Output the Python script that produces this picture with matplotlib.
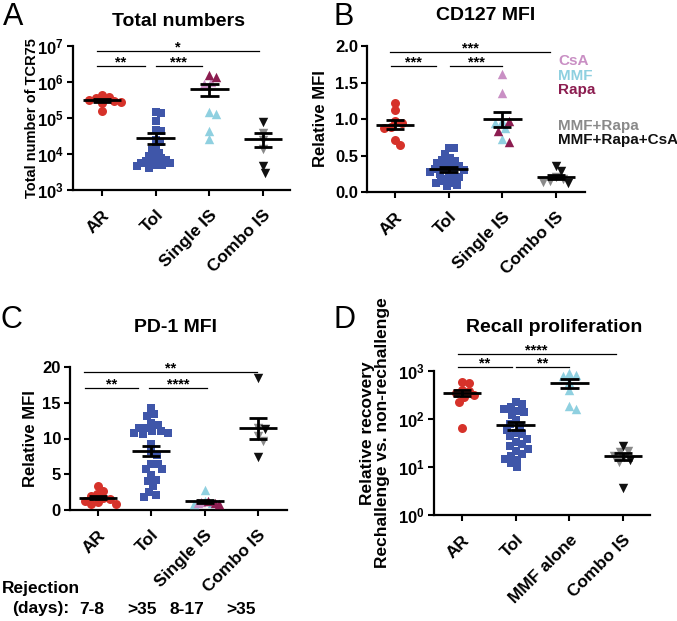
import numpy as np
import matplotlib
matplotlib.use('Agg')
import matplotlib.pyplot as plt
from matplotlib.ticker import NullLocator

plt.rcParams['font.family'] = ['Liberation Sans', 'DejaVu Sans']
plt.rcParams['font.weight'] = 'bold'
plt.rcParams['mathtext.fontset'] = 'custom'
plt.rcParams['mathtext.rm'] = 'Liberation Sans:bold'
plt.rcParams['mathtext.bf'] = 'Liberation Sans:bold'
plt.rcParams['mathtext.it'] = 'Liberation Sans:bold:italic'

# ---------------- data ----------------
cats_ABC = ['AR', 'Tol', 'Single IS', 'Combo IS']
cats_D = ['AR', 'Tol', 'MMF alone', 'Combo IS']

# Panel A: total number of TCR75
A_AR = [4.3e5, 3.8e5, 3.5e5, 3.1e5, 2.9e5, 2.8e5, 2.6e5, 1.6e5]
A_Tol = [1.5e5, 1.4e5, 8.5e4, 4.5e4, 4.3e4, 2.5e4, 2.2e4, 1.6e4, 1.3e4, 1.1e4, 9e3,
         8e3, 7.5e3, 7e3, 6.5e3, 6e3, 5.8e3, 5.5e3, 5e3, 4.8e3, 4.5e3, 4.2e3]
A_CsA = [1.0e6, 9.0e5]
A_MMF = [1.5e5, 1.3e5, 4.4e4, 2.6e4]
A_Rapa = [1.55e6, 1.35e6]
A_MR = [3.8e4, 2.4e4, 1.35e4]
A_MRC = [7.5e4, 4.6e3, 3.0e3]

# Panel B: CD127 MFI
B_AR = [1.22, 1.12, 0.97, 0.95, 0.89, 0.88, 0.71, 0.65]
B_Tol = [0.60, 0.60, 0.52, 0.47, 0.44, 0.42, 0.40, 0.37, 0.35, 0.33, 0.32, 0.31,
         0.30, 0.28, 0.27, 0.25, 0.22, 0.20, 0.18, 0.15, 0.13, 0.12, 0.10, 0.08]
B_CsA = [1.62, 1.35]
B_MMF = [0.97, 0.95, 0.88, 0.72]
B_Rapa = [0.97, 0.84, 0.68]
B_MR = [0.20, 0.18, 0.15, 0.14]
B_MRC = [0.35, 0.29, 0.12]

# Panel C: PD-1 MFI
C_AR = [3.3, 2.7, 2.2, 1.9, 1.7, 1.5, 1.3, 1.1, 0.9, 0.8]
C_Tol = [14.3, 13.4, 13.2, 12.1, 11.9, 11.5, 11.0, 10.7, 10.6, 10.7, 11.0, 11.4, 9.3,
         8.2, 7.7, 6.5, 6.5, 5.8, 5.7, 4.9, 4.2, 4.0, 3.3, 2.5, 2.1, 1.8]
C_CsA = [1.1, 1.0]
C_MMF = [2.8, 1.2, 1.0, 0.9]
C_Rapa = [1.2, 1.0, 0.9]
C_MR = [11.4, 10.35, 9.65]
C_MRC = [18.4, 11.3, 7.4]

# Panel D: recall proliferation
D_AR = [600, 550, 400, 380, 340, 310, 290, 230, 66]
D_Tol = [230, 210, 180, 165, 150, 140, 120, 94, 80, 70, 60, 52, 48, 44, 38, 33, 30,
         27, 24, 22, 19, 17, 15, 14, 12, 10]
D_MMF = [900, 830, 790, 600, 400, 185, 160]
D_MR = [22, 21, 17, 16, 12.5]
D_MRC = [28, 14, 3.7]

# significance: (x_start, x_end, y, label)
sig_A = [(-0.1, 2.92, 7.1e6, '*'), (-0.1, 0.8, 2.7e6, '**'), (1.0, 1.86, 2.7e6, '***')]
sig_B = [(-0.09, 2.89, 1.92, '***'), (-0.08, 0.76, 1.72, '***'), (1.02, 2.0, 1.72, '***')]
sig_C = [(-0.25, 2.97, 19.25, '**'), (-0.24, 0.75, 17.0, '**'), (0.96, 2.05, 17.0, '****')]
sig_D = [(-0.08, 2.86, 2290, '****'), (-0.08, 0.93, 1230, '**'), (1.0, 2.0, 1230, '**')]

rejection_days = ['7-8', '>35', '8-17', '>35']

# ---------------- style ----------------
RED = '#d6322a'
BLUE = '#3f56a9'
PINK = '#c98fc4'
LBLUE = '#8fd0e0'
DMAG = '#8c1d50'
GREY = '#8a8a8a'
BLACK = '#111111'

W, H = 677, 621
fig = plt.figure(figsize=(W / 100, H / 100), dpi=100)


def add_axes(l, t, r, b):
    return fig.add_axes([l / W, 1 - b / H, (r - l) / W, (b - t) / H])


def swarm(ax, xc, ys, d, maxw):
    ys = np.asarray(ys, float)
    pts = ax.transData.transform(np.column_stack([np.full(len(ys), xc), ys]))
    px0 = pts[0, 0]
    py = pts[:, 1]
    order = np.argsort(-py, kind='stable')
    placed = []
    xs = np.zeros(len(ys))
    for i in order:
        y = py[i]
        cands = [0.0]
        for (xp, yp) in placed:
            dy = abs(y - yp)
            if dy < d:
                dx = np.sqrt(d * d - dy * dy)
                cands += [xp + dx, xp - dx]
        cands = sorted(cands, key=lambda c: (abs(c), -c))
        chosen = cands[-1]
        for c in cands:
            if all((c - xp) ** 2 + (y - yp) ** 2 >= d * d - 1e-6 for xp, yp in placed):
                chosen = c
                break
        placed.append((chosen, y))
        xs[i] = chosen
    mx = np.abs(xs).max()
    if mx > maxw:
        xs = xs * maxw / mx
    inv = ax.transData.inverted()
    return inv.transform(np.column_stack([px0 + xs, py]))[:, 0]


MS = {'o': 42, 's': 36, '^': 46, 'v': 46}


def draw_group(ax, xc, subsets, d=7.0, maxw=19.0):
    allv = np.concatenate([np.asarray(v, float) for v, _, _ in subsets])
    xs = swarm(ax, xc, allv, d, maxw)
    k = 0
    for v, col, mk in subsets:
        n = len(v)
        ax.scatter(xs[k:k + n], v, s=MS[mk], marker=mk, color=col, linewidths=0,
                   zorder=3, clip_on=False)
        k += n
    m = allv.mean()
    s = allv.std(ddof=1) / np.sqrt(len(allv))
    kw = dict(color='black', lw=2.0, zorder=4, solid_capstyle='butt', clip_on=False)
    ax.plot([xc - 0.36, xc + 0.36], [m, m], **kw)
    ax.plot([xc, xc], [m - s, m + s], **kw)
    ax.plot([xc - 0.17, xc + 0.17], [m + s, m + s], **kw)
    ax.plot([xc - 0.17, xc + 0.17], [m - s, m - s], **kw)


def style(ax, cats, xlim):
    for sp in ['top', 'right']:
        ax.spines[sp].set_visible(False)
    for sp in ['left', 'bottom']:
        ax.spines[sp].set_linewidth(1.6)
    ax.tick_params(direction='out', length=4.5, width=1.5, labelsize=12, pad=2)
    ax.tick_params(axis='x', pad=8)
    ax.set_xlim(*xlim)
    ax.set_xticks(range(len(cats)))
    ax.set_xticklabels(cats, rotation=45, ha='right', va='top', rotation_mode='anchor',
                       fontsize=12.5, fontweight='bold')


def sig(ax, items):
    for x0, x1, y, lab in items:
        ax.plot([x0, x1], [y, y], color='black', lw=0.9, clip_on=False)
        ax.annotate(lab, xy=((x0 + x1) / 2, y), xytext=(0, -2.5), textcoords='offset points',
                    ha='center', va='bottom', fontsize=10.5, fontweight='bold',
                    annotation_clip=False)


# ---------------- Panel A ----------------
axA = add_axes(73, 46, 290, 190)
axA.set_yscale('log')
axA.set_ylim(1e3, 1e7)
style(axA, cats_ABC, (-0.54, 3.5))
axA.set_yticks([1e3, 1e4, 1e5, 1e6, 1e7])
axA.set_yticklabels([r'$\mathbf{10^{%d}}$' % e for e in range(3, 8)])
axA.yaxis.set_minor_locator(NullLocator())
draw_group(axA, 0, [(A_AR, RED, 'o')])
draw_group(axA, 1, [(A_Tol, BLUE, 's')])
draw_group(axA, 2, [(A_CsA, PINK, '^'), (A_MMF, LBLUE, '^'), (A_Rapa, DMAG, '^')])
draw_group(axA, 3, [(A_MR, GREY, 'v'), (A_MRC, BLACK, 'v')])
sig(axA, sig_A)
axA.set_ylabel('Total number of TCR75', fontsize=10.5, fontweight='bold')
axA.yaxis.set_label_coords(-0.157, 0.5)

# ---------------- Panel B ----------------
axB = add_axes(367, 46, 585, 192)
axB.set_ylim(0, 2.0)
style(axB, cats_ABC, (-0.52, 3.54))
axB.set_yticks([0, 0.5, 1.0, 1.5, 2.0])
axB.set_yticklabels(['0.0', '0.5', '1.0', '1.5', '2.0'])
draw_group(axB, 0, [(B_AR, RED, 'o')])
draw_group(axB, 1, [(B_Tol, BLUE, 's')])
draw_group(axB, 2, [(B_CsA, PINK, '^'), (B_MMF, LBLUE, '^'), (B_Rapa, DMAG, '^')])
draw_group(axB, 3, [(B_MR, GREY, 'v'), (B_MRC, BLACK, 'v')])
sig(axB, sig_B)
axB.set_ylabel('Relative MFI', fontsize=12, fontweight='bold')
axB.yaxis.set_label_coords(-0.18, 0.5)

# ---------------- Panel C ----------------
axC = add_axes(70, 367, 287, 510)
axC.set_ylim(0, 20)
style(axC, cats_ABC, (-0.52, 3.54))
axC.set_yticks([0, 5, 10, 15, 20])
draw_group(axC, 0, [(C_AR, RED, 'o')])
draw_group(axC, 1, [(C_Tol, BLUE, 's')])
draw_group(axC, 2, [(C_MMF, LBLUE, '^'), (C_CsA, PINK, '^'), (C_Rapa, DMAG, '^')], maxw=14)
draw_group(axC, 3, [(C_MR, GREY, 'v'), (C_MRC, BLACK, 'v')])
sig(axC, sig_C)
axC.set_ylabel('Relative MFI', fontsize=12, fontweight='bold')
axC.yaxis.set_label_coords(-0.147, 0.5)

# ---------------- Panel D ----------------
axD = add_axes(434, 371, 650, 515)
axD.set_yscale('log')
axD.set_ylim(1, 1e3)
style(axD, cats_D, (-0.52, 3.5))
axD.set_yticks([1, 10, 100, 1000])
axD.set_yticklabels([r'$\mathbf{10^{%d}}$' % e for e in range(0, 4)])
axD.yaxis.set_minor_locator(NullLocator())
draw_group(axD, 0, [(D_AR, RED, 'o')])
draw_group(axD, 1, [(D_Tol, BLUE, 's')])
draw_group(axD, 2, [(D_MMF, LBLUE, '^')])
draw_group(axD, 3, [(D_MR, GREY, 'v'), (D_MRC, BLACK, 'v')])
sig(axD, sig_D)
axD.set_ylabel('Relative recovery\nRechallenge vs. non-rechallenge', fontsize=12.5,
               fontweight='bold', linespacing=1.0)
axD.yaxis.set_label_coords(-0.204, 0.57)


# ---------------- figure texts ----------------
def ftext(x, y, s, **kw):
    fig.text(x / W, 1 - y / H, s, **kw)


ftext(179, 22, 'Total numbers', ha='center', va='center', fontsize=14, fontweight='bold')
ftext(486, 15, 'CD127 MFI', ha='center', va='center', fontsize=14, fontweight='bold')
ftext(176, 328, 'PD-1 MFI', ha='center', va='center', fontsize=14, fontweight='bold')
ftext(554, 327, 'Recall proliferation', ha='center', va='center', fontsize=14, fontweight='bold')

for x, y, L in [(3, 25, 'A'), (333, 25, 'B'), (0, 328, 'C'), (333, 328, 'D')]:
    ftext(x, y, L, ha='left', va='baseline', fontsize=22, fontweight='normal')

legend_items = [('CsA', PINK, 61), ('MMF', LBLUE, 76), ('Rapa', DMAG, 90),
                ('MMF+Rapa', GREY, 126), ('MMF+Rapa+CsA', BLACK, 140)]
for s, c, y in legend_items:
    ftext(558, y, s, ha='left', va='center', fontsize=11, fontweight='bold', color=c)

ftext(2, 588, 'Rejection', ha='left', va='center', fontsize=12.5, fontweight='bold')
ftext(12, 609, '(days):', ha='left', va='center', fontsize=12.5, fontweight='bold')
for x, s in zip([92, 142, 187, 241], rejection_days):
    ftext(x, 609, s, ha='center', va='center', fontsize=12.5, fontweight='bold')

fig.savefig('out.png', dpi=100)
